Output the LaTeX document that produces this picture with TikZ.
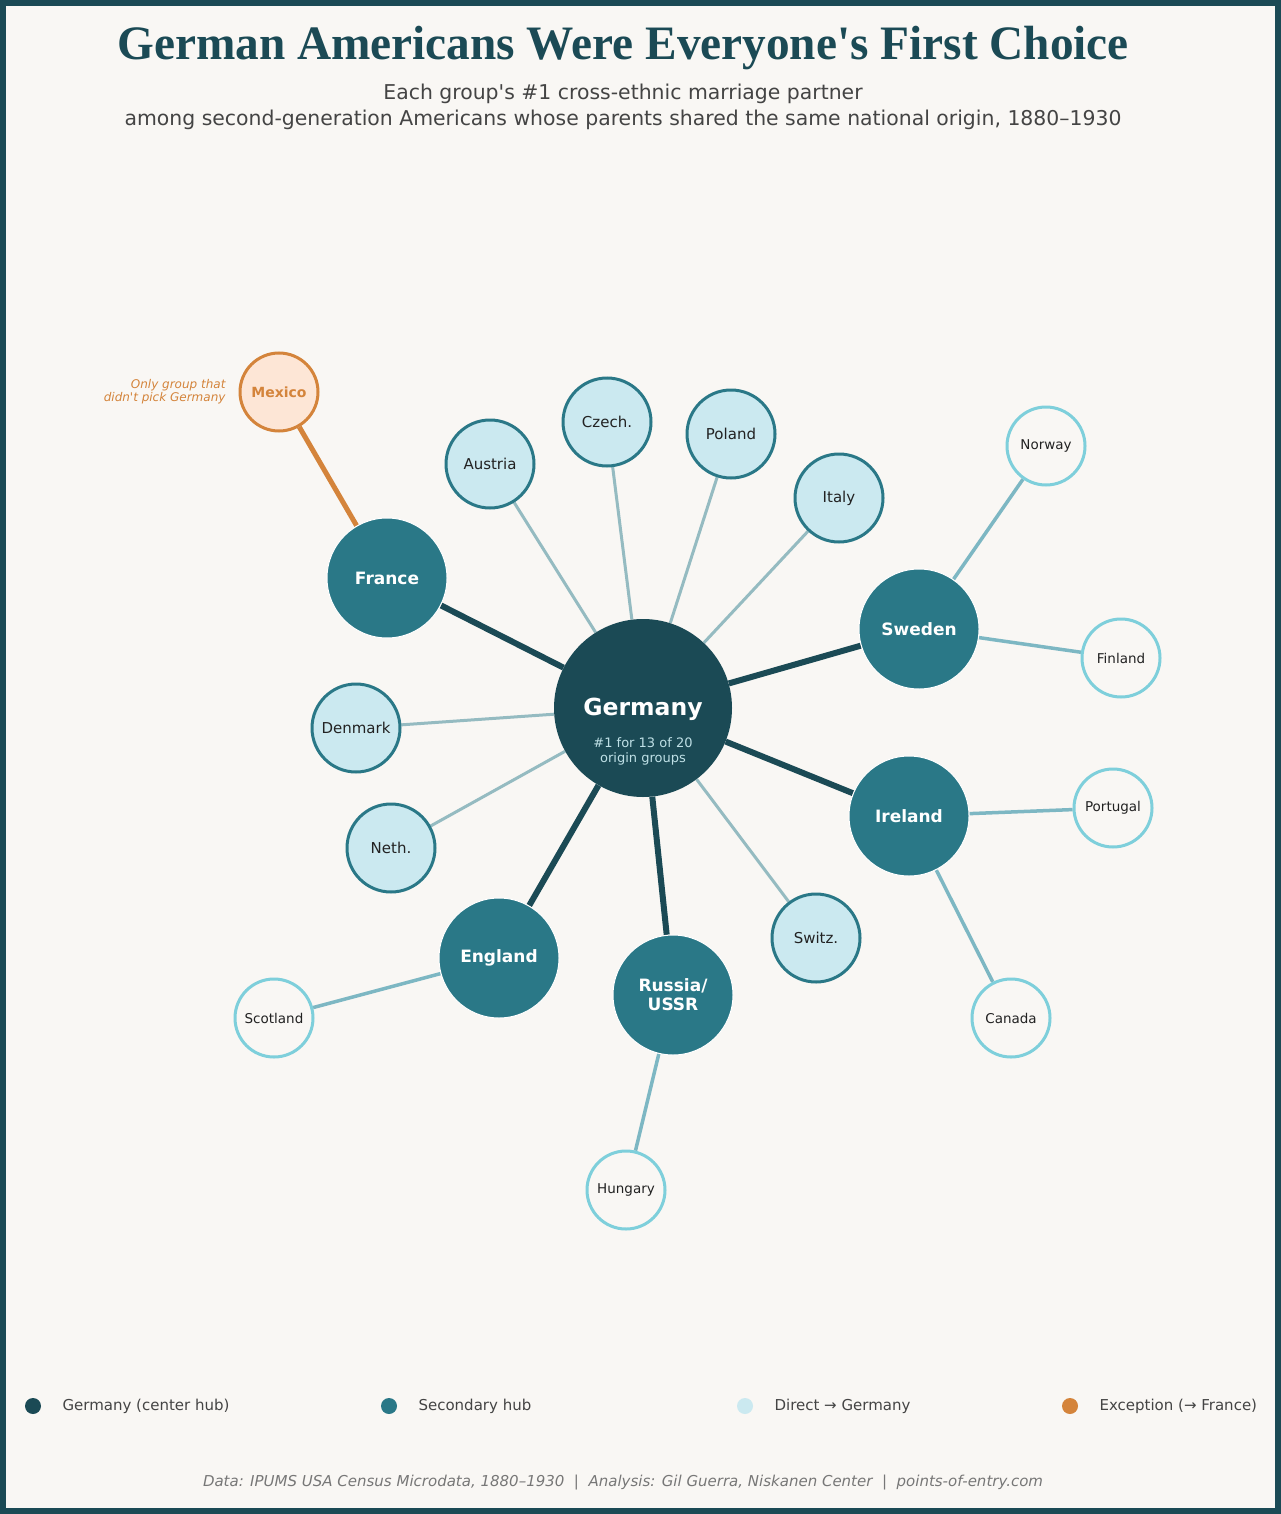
\documentclass[tikz,border=0pt]{standalone}
\usepackage{fontspec}
\setmainfont{DejaVu Sans}
\newfontfamily\plainsans{DejaVu Sans}
\newfontfamily\titlefont{Liberation Serif}
\definecolor{bgc}{HTML}{F9F7F4}
\definecolor{darkc}{HTML}{1B4A55}
\definecolor{tealc}{HTML}{2A7887}
\definecolor{lightc}{HTML}{CBE9F0}
\definecolor{leafc}{HTML}{7ECFDB}
\definecolor{orc}{HTML}{D4843B}
\definecolor{mexfill}{HTML}{FDE6D6}
\definecolor{spokec}{HTML}{95BBC1}
\definecolor{leafedge}{HTML}{7DB7C3}
\definecolor{subc}{HTML}{444444}
\definecolor{footc}{HTML}{777777}
\definecolor{gsubc}{HTML}{BFE0E6}
\definecolor{labc}{HTML}{222222}
\pgfdeclarelayer{bglayer}
\pgfdeclarelayer{edgelayer}
\pgfsetlayers{bglayer,edgelayer,main}
\tikzset{
  center/.style={circle, fill=darkc, minimum size=178pt, inner sep=0pt},
  hub/.style={circle, fill=tealc, draw=white, line width=1pt, minimum size=120pt, inner sep=0pt, text=white, align=center, font=\fontsize{17}{19}\selectfont\bfseries},
  direct/.style={circle, fill=lightc, draw=tealc, line width=3pt, minimum size=88pt, inner sep=0pt, text=labc, font=\fontsize{15}{17}\selectfont},
  leaf/.style={circle, fill=bgc, draw=leafc, line width=3pt, minimum size=78pt, inner sep=0pt, text=labc, font=\fontsize{13.5}{16}\selectfont},
  mex/.style={circle, fill=mexfill, draw=orc, line width=3pt, minimum size=78pt, inner sep=0pt, text=orc, font=\fontsize{14}{16}\selectfont\bfseries},
  thickspoke/.style={draw=darkc, line width=6pt},
  thinspoke/.style={draw=spokec, line width=3pt},
  leafspoke/.style={draw=leafedge, line width=3.5pt},
  mexspoke/.style={draw=orc, line width=5pt},
  legdot/.style={circle, minimum size=16pt, inner sep=0pt},
  legtext/.style={anchor=west, text=subc, font=\fontsize{15}{18}\selectfont},
}
\begin{document}
\begin{tikzpicture}[x=1pt,y=-1pt]
\begin{pgfonlayer}{bglayer}
\fill[bgc] (0,0) rectangle (1281,1514);
\end{pgfonlayer}
\useasboundingbox (0,0) rectangle (1281,1514);
\draw[darkc, line width=6pt] (3,3) rectangle (1278,1511);

% title
\node (title) at (623,48) {\scalebox{0.985}[1]{\titlefont\bfseries\fontsize{48}{56}\selectfont\color{darkc}German Americans Were Everyone's First Choice}};
\node (sub1) at (623,94) {\plainsans\fontsize{20.4}{24}\selectfont\color{subc}Each group's \#1 cross-ethnic marriage partner};
\node (sub2) at (623,120) {\plainsans\fontsize{20.4}{24}\selectfont\color{subc}among second-generation Americans whose parents shared the same national origin, 1880–1930};

% nodes
\node[center] (ger) at (643,708) {};
\node[text=white, font=\fontsize{23.5}{27}\selectfont\bfseries] (gerlab) at (643,709) {Germany};
\node[text=gsubc, align=center, font=\fontsize{13}{15}\selectfont] (gersub) at (643,751) {\#1 for 13 of 20\\origin groups};

\node[hub] (fra) at (387,578) {France};
\node[hub] (swe) at (919,629) {Sweden};
\node[hub] (ire) at (909,816) {Ireland};
\node[hub] (eng) at (499,958) {England};
\node[hub] (rus) at (673,995) {Russia/\\USSR};

\node[direct] (aut) at (490,464) {Austria};
\node[direct] (cze) at (607,422) {Czech.};
\node[direct] (pol) at (731,434) {Poland};
\node[direct] (ita) at (839,498) {Italy};
\node[direct] (den) at (356,728) {Denmark};
\node[direct] (net) at (391,848) {Neth.};
\node[direct] (swi) at (816,938) {Switz.};

\node[leaf] (nor) at (1046,446) {Norway};
\node[leaf] (fin) at (1121,658) {Finland};
\node[leaf] (por) at (1113,808) {Portugal};
\node[leaf] (can) at (1011,1018) {Canada};
\node[leaf] (sco) at (274,1018) {Scotland};
\node[leaf] (hun) at (626,1190) {Hungary};

\node[mex] (mex) at (279,392) {Mexico};
\node[anchor=east, align=right, text=orc, font=\plainsans\fontsize{12}{13}\selectfont\itshape] (note) at (229,392) {Only group that\\didn't pick Germany};

% edges
\begin{pgfonlayer}{edgelayer}
\foreach \n in {aut,cze,pol,ita,den,net,swi} \draw[thinspoke] (ger) -- (\n);
\foreach \n in {fra,swe,ire,eng,rus} \draw[thickspoke] (ger) -- (\n);
\draw[leafspoke] (swe) -- (nor);
\draw[leafspoke] (swe) -- (fin);
\draw[leafspoke] (ire) -- (por);
\draw[leafspoke] (ire) -- (can);
\draw[leafspoke] (eng) -- (sco);
\draw[leafspoke] (rus) -- (hun);
\draw[mexspoke] (fra) -- (mex);
\end{pgfonlayer}

% legend
\node[legdot, fill=darkc] (l1) at (33,1406) {};
\node[legtext] (t1) at (59,1406) {Germany (center hub)};
\node[legdot, fill=tealc] (l2) at (389,1406) {};
\node[legtext] (t2) at (415,1406) {Secondary hub};
\node[legdot, fill=lightc] (l3) at (745,1406) {};
\node[legtext] (t3) at (771,1406) {Direct → Germany};
\node[legdot, fill=orc] (l4) at (1070,1406) {};
\node[legtext] (t4) at (1096,1406) {Exception (→ France)};

% footer
\node[text=footc, font=\fontsize{15}{18}\selectfont\itshape] (foot) at (623,1483) {Data: IPUMS USA Census Microdata, 1880–1930 \ | \ Analysis: Gil Guerra, Niskanen Center \ | \ points-of-entry.com};
\end{tikzpicture}
\end{document}
